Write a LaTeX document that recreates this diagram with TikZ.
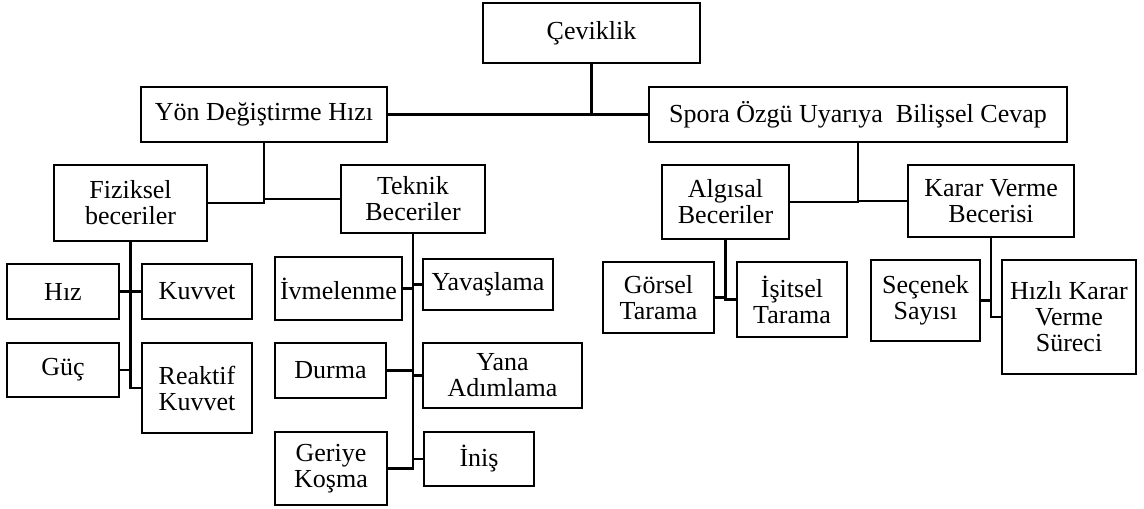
\documentclass[tikz,border=0pt]{standalone}
\usepackage{fontspec}
\setmainfont{Liberation Serif}
\usepackage{tikz}

\begin{document}
\begin{tikzpicture}[x=0.5pt, y=-0.5pt,
        box/.style={draw, line width=1.2pt, align=center, inner sep=0pt,
            font=\fontsize{13}{13}\selectfont},
        link/.style={line width=1.2pt}]
        \useasboundingbox (0,0) rectangle (1144,508);
        % top levels
        \node[box, minimum width=108.5pt, minimum height=30pt] (cev) at (591.5,33) {Çeviklik};
        \node[box, minimum width=123pt, minimum height=27.5pt] (yon) at (264,114.5) {Yön Değiştirme Hızı};
        \node[box, minimum width=209pt, minimum height=27.5pt] (spo) at (858,114.5) {Spora Özgü Uyarıya\ \ Bilişsel Cevap};
        \node[box, minimum width=76.5pt, minimum height=38pt] (fiz) at (130.5,203) {Fiziksel\\beceriler};
        \node[box, minimum width=72pt, minimum height=34pt] (tek) at (413,199) {Teknik\\Beceriler};
        \node[box, minimum width=63.5pt, minimum height=37pt] (alg) at (725.5,202) {Algısal\\Beceriler};
        \node[box, minimum width=83pt, minimum height=36pt] (kar) at (991,201) {Karar Verme\\Becerisi};
        % physical skills
        \node[box, minimum width=56pt, minimum height=27.5pt] (hiz) at (63,291.5) {Hız};
        \node[box, minimum width=55pt, minimum height=27.5pt] (kuv) at (197,291.5) {Kuvvet};
        \node[box, minimum width=56pt, minimum height=27pt] (guc) at (63,370) {Güç};
        \node[box, minimum width=55pt, minimum height=45pt] (rea) at (197,388) {Reaktif\\Kuvvet};
        % technical skills
        \node[box, minimum width=63.5pt, minimum height=31.5pt] (ivm) at (338.5,288.5) {İvmelenme};
        \node[box, minimum width=65pt, minimum height=25.5pt] (yav) at (488,284.5) {Yavaşlama};
        \node[box, minimum width=55.5pt, minimum height=27.5pt] (dur) at (330.5,370.5) {Durma};
        \node[box, minimum width=79.5pt, minimum height=32.5pt] (yan) at (502.5,375.5) {Yana\\Adımlama};
        \node[box, minimum width=56pt, minimum height=36.5pt] (ger) at (331,468.5) {Geriye\\Koşma};
        \node[box, minimum width=55pt, minimum height=27pt] (ini) at (479,459) {İniş};
        % perceptual and decision skills
        \node[box, minimum width=55.5pt, minimum height=35.5pt] (gor) at (658.5,297.5) {Görsel\\Tarama};
        \node[box, minimum width=55pt, minimum height=37.5pt] (isi) at (792,299.5) {İşitsel\\Tarama};
        \node[box, minimum width=54.5pt, minimum height=40.5pt] (sec) at (925.5,300.5) {Seçenek\\Sayısı};
        \node[box, minimum width=67pt, minimum height=57pt] (hkv) at (1069,317) {Hızlı Karar\\Verme\\Süreci};

        % connectors
        \draw[link] (cev.south) -- (cev.south |- yon.east);
        \draw[link] (yon.east) -- (spo.west);
        \draw[link] (yon.south) |- (fiz.east);
        \draw[link] (tek.west) -- (tek.west -| yon.south);
        \draw[link] (spo.south) |- (alg.east);
        \draw[link] (kar.west) -- (kar.west -| spo.south);
        \draw[link] (fiz.south) |- (rea.west);
        \draw[link] (hiz.east) -- (hiz.east -| fiz.south);
        \draw[link] (kuv.west) -- (kuv.west -| fiz.south);
        \draw[link] (guc.east) -- (guc.east -| fiz.south);
        \draw[link] (tek.south) |- (ger.east);
        \draw[link] (ivm.east) -- (ivm.east -| tek.south);
        \draw[link] (yav.west) -- (yav.west -| tek.south);
        \draw[link] (dur.east) -- (dur.east -| tek.south);
        \draw[link] (yan.west) -- (yan.west -| tek.south);
        \draw[link] (ini.west) -- (ini.west -| tek.south);
        \draw[link] (alg.south) |- (isi.west);
        \draw[link] (gor.east) -- (gor.east -| alg.south);
        \draw[link] (kar.south) |- (hkv.west);
        \draw[link] (sec.east) -- (sec.east -| kar.south);
    \end{tikzpicture}
\end{document}
